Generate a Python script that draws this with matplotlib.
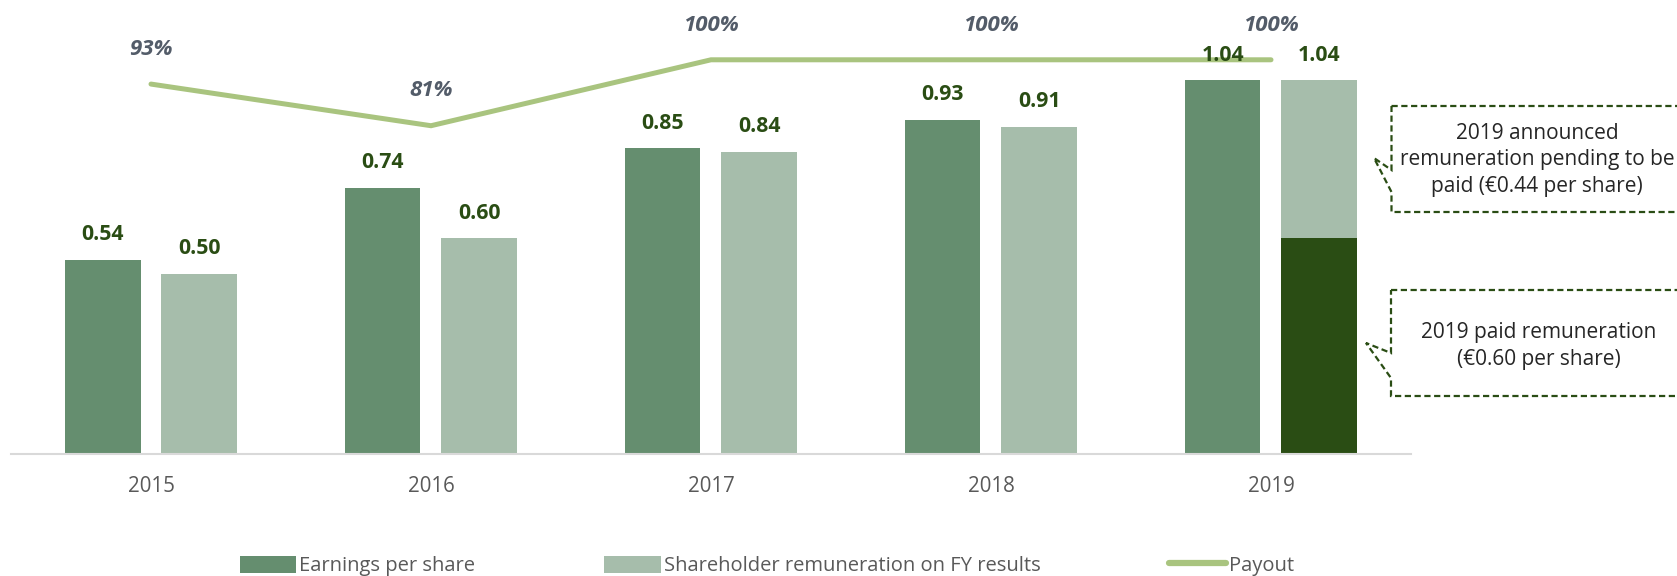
import matplotlib
matplotlib.use("Agg")
import matplotlib.pyplot as plt
from matplotlib.patches import Polygon, Patch
from matplotlib.lines import Line2D
import numpy as np

years = ["2015", "2016", "2017", "2018", "2019"]
eps = [0.54, 0.74, 0.85, 0.93, 1.04]
remuneration = [0.50, 0.60, 0.84, 0.91, 1.04]
paid_2019 = 0.60
pending_2019 = 0.44
payout = [0.93, 0.81, 1.00, 1.00, 1.00]
payout_labels = ["93%", "81%", "100%", "100%", "100%"]

C_EPS = "#658e6f"
C_REM = "#a6bdab"
C_DARK = "#2a4d14"
C_LINE = "#a9c47f"
C_TICK = "#595959"
C_PCT = "#535c69"
FONT = "Open Sans"

W, H = 1677, 576
fig = plt.figure(figsize=(W / 100, H / 100), dpi=100)
ax_left, ax_right, ax_base = 11, 1411, 453.5
ax = fig.add_axes([ax_left / W, 1 - ax_base / H, (ax_right - ax_left) / W, ax_base / H])

x = np.arange(len(years))
off, bw = 0.173, 0.271
rem_plain = remuneration[:-1]
ax.bar(x - off, eps, bw, color=C_EPS, zorder=2)
ax.bar(x[:-1] + off, rem_plain, bw, color=C_REM, zorder=2)
ax.bar(x[-1] + off, paid_2019, bw, color=C_DARK, zorder=2)
ax.bar(x[-1] + off, pending_2019, bw, bottom=paid_2019, color=C_REM, zorder=2)

for xi, v in zip(x - off, eps):
    ax.annotate(f"{v:.2f}", (xi, v), xytext=(0, 18), textcoords="offset points",
                ha="center", va="center", fontsize=15.3, fontweight="bold",
                color=C_DARK, family=FONT, zorder=5)
for xi, v in zip(x + off, remuneration):
    ax.annotate(f"{v:.2f}", (xi, v), xytext=(0, 18), textcoords="offset points",
                ha="center", va="center", fontsize=15.3, fontweight="bold",
                color=C_DARK, family=FONT, zorder=5)

ax.set_xlim(-0.5, 4.5)
ax.set_ylim(0, ax_base / 359.0)
ax.set_xticks(x)
ax.set_xticklabels(years, fontsize=14.8, color=C_TICK, family=FONT)
ax.tick_params(axis="x", length=0, pad=16)
ax.set_yticks([])
for s in ["top", "right", "left"]:
    ax.spines[s].set_visible(False)
ax.spines["bottom"].set_color("#d9d9d9")
ax.spines["bottom"].set_linewidth(1.5)
ax.patch.set_visible(False)

ax2 = ax.twinx()
ax2.set_ylim(-0.1346, 1.1723)
ax2.plot(x, payout, color=C_LINE, lw=3.6, solid_capstyle="round",
         solid_joinstyle="miter", zorder=1)
for xi, p, lab in zip(x, payout, payout_labels):
    ax2.annotate(lab, (xi, p), xytext=(0, 25), textcoords="offset points",
                 ha="center", va="center", fontsize=16, fontweight="bold",
                 fontstyle="italic", color=C_PCT, family=FONT)
ax2.set_yticks([])
for s in ax2.spines.values():
    s.set_visible(False)
ax.set_zorder(ax2.get_zorder() + 1)

# Callout boxes (figure pixel coordinates)
def fp(px, py):
    return (px / W, 1 - py / H)

box1 = [fp(1391.5, 106), fp(1700, 106), fp(1700, 212), fp(1391.5, 212),
        fp(1391.5, 192), fp(1374, 158), fp(1391.5, 170)]
box2 = [fp(1391, 290), fp(1700, 290), fp(1700, 396), fp(1391, 396),
        fp(1391, 378), fp(1366, 343), fp(1391, 353)]
for pts in (box1, box2):
    fig.add_artist(Polygon(pts, closed=True, fill=True, facecolor="white",
                           edgecolor=C_DARK, lw=1.6, ls=(0, (2.8, 1.6)),
                           transform=fig.transFigure))

fig.text(1537 / W, 1 - 160 / H,
         "2019 announced\nremuneration pending to be\npaid (€0.44 per share)",
         ha="center", va="center", fontsize=15.0, color="#262626", family=FONT,
         linespacing=1.34)
fig.text(1539 / W, 1 - 346 / H,
         "2019 paid remuneration\n(€0.60 per share)",
         ha="center", va="center", fontsize=15.0, color="#262626", family=FONT,
         linespacing=1.34)

handles = [Patch(facecolor=C_EPS), Patch(facecolor=C_REM),
           Line2D([0], [0], color=C_LINE, lw=4.5, solid_capstyle="round")]
labels = ["Earnings per share", "Shareholder remuneration on FY results", "Payout"]
leg = fig.legend(handles, labels, loc="center", bbox_to_anchor=(767 / W, 1 - 566 / H),
                 ncol=3, frameon=False, handlelength=2.8, handleheight=0.9,
                 handletextpad=0.15, columnspacing=6.4,
                 prop={"family": FONT, "size": 14.5})
for t in leg.get_texts():
    t.set_color(C_TICK)

fig.savefig("out.png", dpi=100)
